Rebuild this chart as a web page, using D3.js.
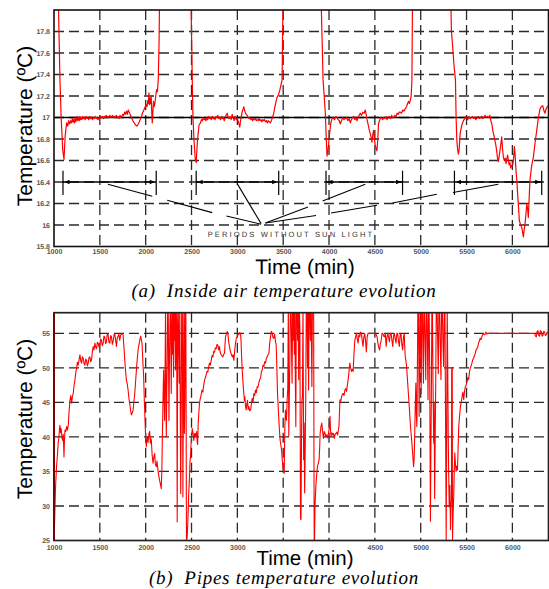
<!DOCTYPE html>
<html><head><meta charset="utf-8">
<script src="https://cdn.jsdelivr.net/npm/d3@7"></script>
<style>html,body{margin:0;padding:0;background:#fff;}svg{display:block;}text{text-rendering:geometricPrecision;}</style>
</head><body>
<svg id="c" width="549" height="589"></svg>
<script>
// ---------- DATA ----------
const timeTicks = [1000,1500,2000,2500,3000,3500,4000,4500,5000,5500,6000];
const airTimeLabels = ["1000","1500","2000","2500","3000","3500","4000","4500","5000","5500","6000"];
// in the lower panel the 3500 and 4000 labels are hidden under the axis title
const pipeTimeLabels = ["1000","1500","2000","2500","3000","","","4500","5000","5500","6000"];
const airTicks = [15.8,16,16.2,16.4,16.6,16.8,17,17.2,17.4,17.6,17.8];
const airTickLabels = ["15.8","16","16.2","16.4","16.6","16.8","17","17.2","17.4","17.6","17.8"];
const pipeTicks = [25,30,35,40,45,50,55];
const setPoint = 17;
const periodStart = [1098,2551,3967,5368];
const periodEnd = [2115,3451,4802,6320];
const periodLevel = 16.4;
const periodLabel = "PERIODS WITHOUT SUN LIGHT";
// pointer segments [t1,v1,t2,v2]
const pointerSegs = [
 [1588,16.379,2072,16.267],[2235,16.23,2725,16.115],[2881,16.084,3259,16.007],
 [2998,16.385,3259,16.013],
 [3306,16.019,3771,16.168],[3930,16.224,4395,16.379],
 [3306,16.019,3858,16.088],[4022,16.112,4523,16.183],[4693,16.205,5176,16.286],[5351,16.302,5847,16.379]
];

const airSeries = [[1040,18.4],[1065,17.35],[1078,17.0],[1095,16.7],[1109,16.61],[1122,16.83],[1138,16.95],[1150,16.92],[1160,16.97],[1172,16.94],[1182,16.97],[1192,16.95],[1200,16.99],[1208,16.96],[1215,16.98],[1222,16.95],[1230,17.0],[1238,16.96],[1245,16.98],[1252,17.01],[1260,16.97],[1268,17.0],[1275,16.97],[1283,17.01],[1290,16.98],[1298,17.0],[1305,16.98],[1313,17.01],[1320,16.99],[1330,17.0],[1340,16.98],[1350,17.01],[1360,16.99],[1370,17.0],[1380,16.98],[1390,17.01],[1400,16.99],[1410,17.0],[1420,16.98],[1430,17.0],[1440,16.99],[1450,17.01],[1460,16.99],[1470,17.0],[1480,16.98],[1490,17.0],[1500,16.99],[1510,17.01],[1520,17.0],[1530,17.01],[1540,16.99],[1550,17.01],[1560,17.0],[1570,17.02],[1580,17.0],[1590,17.01],[1600,17.0],[1610,17.02],[1620,17.0],[1630,17.01],[1640,17.02],[1650,17.0],[1660,17.01],[1670,17.0],[1680,17.02],[1690,17.0],[1700,17.01],[1710,16.99],[1720,17.02],[1730,17.0],[1740,17.01],[1750,17.03],[1760,17.02],[1770,17.05],[1780,17.03],[1790,17.06],[1800,17.03],[1810,17.07],[1820,17.05],[1830,17.03],[1845,17.0],[1860,16.97],[1875,16.95],[1890,16.93],[1905,16.92],[1920,16.94],[1935,16.97],[1950,17.0],[1965,17.04],[1980,17.07],[1995,17.1],[2005,17.12],[2015,17.1],[2024,17.16],[2030,17.13],[2036,17.23],[2042,17.12],[2048,17.18],[2054,17.13],[2060,17.2],[2066,17.05],[2072,16.95],[2078,17.05],[2085,17.15],[2092,17.1],[2100,17.13],[2110,17.2],[2120,17.26],[2128,17.24],[2137,17.35],[2146,17.7],[2155,18.4],
[2489,18.4],[2508,17.35],[2516,17.0],[2527,16.79],[2540,16.62],[2551,16.58],[2565,16.79],[2582,16.93],[2598,16.95],[2608,16.98],[2617,16.97],[2627,17.0],[2637,16.98],[2647,16.99],[2657,16.97],[2667,17.0],[2677,16.98],[2687,17.01],[2697,16.99],[2707,17.0],[2717,16.98],[2727,17.01],[2737,16.99],[2747,17.0],[2757,16.98],[2767,17.01],[2777,17.0],[2787,17.02],[2797,16.99],[2807,17.0],[2817,16.98],[2827,17.01],[2837,16.99],[2847,17.0],[2857,16.97],[2867,17.0],[2877,17.02],[2889,17.04],[2900,17.0],[2910,16.99],[2920,17.01],[2932,16.98],[2943,17.03],[2955,17.0],[2965,16.97],[2975,17.01],[2988,16.98],[2998,17.0],[3010,16.96],[3018,16.94],[3026,16.91],[3035,16.97],[3045,17.02],[3055,17.06],[3063,17.08],[3070,17.1],[3078,17.07],[3088,17.04],[3097,17.03],[3107,17.02],[3117,17.0],[3127,16.99],[3137,17.0],[3147,16.98],[3157,16.99],[3167,16.97],[3177,16.99],[3187,16.98],[3197,16.99],[3207,16.97],[3217,16.98],[3227,16.97],[3237,16.99],[3247,16.97],[3257,16.98],[3267,16.96],[3277,16.98],[3287,16.97],[3297,16.98],[3307,16.96],[3317,16.97],[3327,16.95],[3337,16.97],[3347,16.96],[3361,16.95],[3375,16.98],[3390,17.02],[3397,17.04],[3410,17.1],[3420,17.14],[3434,17.19],[3448,17.21],[3462,17.25],[3475,17.3],[3488,17.35],[3502,18.4],
[3905,18.4],[3935,17.35],[3960,17.04],[3970,16.8],[3978,16.64],[3992,16.72],[4006,16.85],[4020,16.95],[4033,16.99],[4045,17.0],[4060,16.98],[4075,17.01],[4087,17.0],[4100,16.98],[4112,16.97],[4123,16.94],[4135,16.97],[4150,17.0],[4163,16.98],[4177,16.99],[4190,17.0],[4205,16.97],[4220,16.99],[4232,16.95],[4245,16.98],[4257,17.0],[4268,17.01],[4280,16.98],[4293,17.0],[4305,16.97],[4318,17.01],[4330,17.02],[4341,17.04],[4355,17.02],[4368,17.05],[4383,17.04],[4395,17.07],[4405,17.03],[4415,16.98],[4425,16.94],[4440,16.88],[4450,16.85],[4458,16.82],[4468,16.77],[4477,16.84],[4486,16.88],[4495,16.8],[4504,16.74],[4514,16.71],[4523,16.69],[4532,16.8],[4540,16.94],[4550,16.97],[4559,16.99],[4570,17.0],[4585,16.98],[4598,17.0],[4610,16.99],[4622,17.01],[4632,16.98],[4645,17.0],[4658,17.01],[4670,16.99],[4683,17.02],[4693,17.0],[4704,17.0],[4718,17.02],[4730,17.01],[4743,17.04],[4755,17.03],[4767,17.05],[4777,17.05],[4790,17.04],[4805,17.07],[4818,17.06],[4831,17.08],[4845,17.1],[4857,17.13],[4867,17.15],[4876,17.13],[4886,17.16],[4896,17.2],[4904,17.35],[4913,18.4],
[5321,18.4],[5335,17.8],[5343,17.72],[5352,17.62],[5362,17.5],[5379,17.35],[5386,17.0],[5394,16.79],[5403,16.7],[5412,16.66],[5421,16.72],[5430,16.85],[5448,16.93],[5466,16.97],[5480,16.99],[5492,17.01],[5503,17.0],[5515,16.98],[5527,17.01],[5540,16.99],[5552,17.0],[5565,17.01],[5578,16.99],[5590,17.0],[5602,16.98],[5615,17.0],[5628,17.01],[5640,16.99],[5652,17.0],[5665,17.01],[5678,16.99],[5690,17.0],[5703,17.02],[5715,17.0],[5728,17.01],[5740,17.0],[5754,17.02],[5765,16.97],[5776,16.94],[5790,16.86],[5800,16.83],[5809,16.79],[5820,16.74],[5830,16.68],[5838,16.62],[5847,16.59],[5856,16.64],[5866,16.7],[5875,16.76],[5884,16.82],[5893,16.7],[5902,16.63],[5912,16.6],[5922,16.62],[5931,16.57],[5940,16.62],[5948,16.65],[5956,16.6],[5965,16.56],[5973,16.58],[5982,16.53],[5992,16.55],[6004,16.56],[6013,16.62],[6022,16.73],[6030,16.65],[6040,16.5],[6048,16.42],[6058,16.28],[6066,16.18],[6076,16.04],[6090,16.0],[6102,15.98],[6112,15.93],[6120,15.89],[6128,15.95],[6138,16.01],[6148,16.1],[6157,16.2],[6166,16.15],[6174,16.07],[6183,16.25],[6192,16.42],[6210,16.55],[6229,16.63],[6248,16.77],[6266,16.88],[6284,17.0],[6302,17.08],[6315,17.1],[6331,17.11],[6345,17.06],[6356,17.04],[6368,17.08],[6381,17.1],[6394,17.11]];

const pipeSeries = [[1000,25.05],[1006,27.5],[1011,29.9],[1016,32.5],[1022,34.2],[1028,35.8],[1036,37.1],[1045,39.0],[1054,40.0],[1060,41.2],[1065,41.7],[1072,40.6],[1078,41.2],[1083,40.5],[1088,39.8],[1094,39.5],[1100,40.4],[1105,38.8],[1109,37.1],[1114,39.5],[1120,41.0],[1128,40.8],[1138,41.5],[1146,41.0],[1156,41.7],[1165,43.8],[1174,45.3],[1183,46.0],[1192,44.9],[1200,45.8],[1210,46.3],[1219,47.5],[1228,48.2],[1237,49.3],[1246,49.9],[1255,50.8],[1264,50.4],[1274,51.2],[1283,51.9],[1292,51.0],[1301,50.7],[1310,51.6],[1319,51.4],[1328,50.6],[1337,50.4],[1346,51.3],[1355,51.1],[1364,50.3],[1373,50.7],[1382,51.5],[1391,51.6],[1400,50.9],[1409,51.1],[1418,52.3],[1427,53.1],[1436,52.6],[1446,53.6],[1455,53.0],[1464,52.8],[1473,53.7],[1482,53.6],[1491,53.0],[1500,53.3],[1509,54.2],[1518,54.0],[1527,53.2],[1536,53.6],[1545,54.6],[1554,54.5],[1563,53.5],[1572,53.8],[1581,54.9],[1590,54.8],[1600,53.7],[1609,53.6],[1618,54.7],[1627,54.5],[1636,53.4],[1645,53.8],[1654,54.8],[1663,54.9],[1672,54.1],[1681,53.1],[1690,54.3],[1699,54.6],[1708,54.9],[1717,54.0],[1726,54.7],[1735,54.9],[1744,55.0],[1753,54.8],[1762,53.2],[1772,51.1],[1781,49.5],[1790,48.2],[1799,47.7],[1808,46.8],[1817,45.6],[1826,44.9],[1835,43.9],[1844,43.2],[1853,43.5],[1862,43.8],[1871,45.0],[1881,46.3],[1890,48.0],[1899,49.7],[1908,51.3],[1917,52.6],[1926,53.3],[1935,54.0],[1946,54.6],[1953,54.0],[1960,53.6],[1969,51.0],[1978,48.7],[1986,45.0],[1993,42.4],[2000,39.8],[2007,38.6],[2012,39.4],[2018,40.0],[2026,39.2],[2036,40.5],[2044,40.8],[2051,39.1],[2056,39.8],[2062,39.5],[2070,37.5],[2080,36.2],[2088,37.0],[2098,37.6],[2106,36.0],[2116,35.7],[2124,36.5],[2134,35.2],[2143,34.4],[2152,33.7],[2160,33.2],[2170,32.5],[2176,35.0],[2181,39.1],[2190,46.0],[2196,49.7],[2202,45.0],[2207,42.4],[2212,50.0],[2217,59],[2221,48.0],[2225,40.0],[2230,46.0],[2235,51.1],[2240,59],[2246,59],[2250,50.0],[2254,42.4],[2260,52.0],[2268,59],[2274,55.0],[2279,46.3],[2285,59],[2292,52.0],[2298,59],[2304,48.7],[2310,59],[2316,54.0],[2320,59],[2326,49.7],[2332,59],[2338,56.0],[2344,27.7],[2350,59],[2355,59],[2361,52.0],[2366,47.8],[2372,59],[2377,45.0],[2382,31.8],[2388,44.9],[2393,59],[2400,59],[2406,31.3],[2412,50.0],[2418,59],[2422,40.5],[2427,44.9],[2432,59],[2438,59],[2445,25.0],[2453,25.5],[2458,27.0],[2464,29.4],[2470,32.0],[2478,34.2],[2484,36.5],[2489,37.1],[2495,39.0],[2500,40.0],[2508,41.2],[2515,40.7],[2520,40.1],[2525,39.5],[2532,40.5],[2538,40.0],[2544,40.5],[2550,40.1],[2556,40.8],[2562,39.3],[2567,38.9],[2573,42.0],[2580,43.5],[2587,44.9],[2596,45.6],[2605,46.1],[2614,46.8],[2624,46.5],[2633,47.5],[2642,48.2],[2651,48.6],[2660,49.0],[2669,49.5],[2678,49.4],[2687,50.2],[2696,50.7],[2705,50.4],[2715,51.1],[2724,51.8],[2733,51.6],[2742,52.4],[2751,52.3],[2760,52.9],[2769,52.8],[2778,53.4],[2787,53.3],[2796,52.6],[2805,53.1],[2814,52.2],[2824,51.9],[2833,51.7],[2842,51.6],[2851,52.0],[2860,52.1],[2866,53.5],[2871,54.5],[2880,54.9],[2889,55.3],[2898,54.8],[2907,53.6],[2916,53.0],[2925,52.3],[2934,52.0],[2944,51.6],[2953,51.9],[2962,51.1],[2971,52.5],[2980,53.6],[2989,54.3],[2998,54.5],[3007,55.0],[3016,54.8],[3025,55.1],[3034,55.0],[3040,54.0],[3045,52.1],[3052,50.0],[3060,48.2],[3066,47.0],[3071,46.3],[3077,45.2],[3082,45.8],[3089,44.5],[3096,43.9],[3103,44.8],[3111,45.3],[3118,44.0],[3125,44.4],[3134,43.8],[3144,43.9],[3153,44.8],[3162,45.6],[3171,45.0],[3180,46.3],[3189,46.0],[3198,46.8],[3207,46.4],[3216,47.3],[3225,47.2],[3234,47.8],[3243,48.3],[3253,48.5],[3262,49.4],[3271,49.7],[3280,50.4],[3289,50.2],[3298,50.9],[3307,50.7],[3316,51.4],[3325,51.6],[3334,51.9],[3344,52.1],[3352,53.5],[3362,54.5],[3371,55.3],[3380,55.0],[3389,54.4],[3398,54.3],[3407,54.9],[3416,53.8],[3422,53.5],[3427,52.1],[3432,49.5],[3438,46.3],[3445,44.5],[3453,42.4],[3460,40.8],[3467,39.5],[3475,38.8],[3482,38.1],[3489,36.8],[3496,35.7],[3504,35.2],[3511,34.7],[3518,41.5],[3525,43.9],[3531,42.8],[3536,42.4],[3543,45.4],[3550,47.0],[3556,59],[3561,40.1],[3567,46.0],[3572,50.2],[3578,59],[3586,59],[3592,52.0],[3597,47.8],[3603,59],[3610,54.0],[3615,59],[3622,52.0],[3628,59],[3633,47.3],[3638,41.5],[3643,59],[3651,59],[3657,54.0],[3663,59],[3669,48.3],[3675,59],[3682,56.0],[3689,28.2],[3694,28.0],[3700,40.0],[3705,45.4],[3710,45.8],[3716,59],[3723,36.7],[3728,42.0],[3734,31.9],[3740,38.0],[3746,45.4],[3752,59],[3760,59],[3766,50.0],[3772,59],[3777,46.8],[3783,59],[3790,59],[3797,54.0],[3804,59],[3813,47.3],[3819,59],[3826,59],[3832,59],[3838,25.0],[3842,25.1],[3847,30.0],[3856,32.8],[3865,34.5],[3874,35.7],[3883,36.2],[3892,36.7],[3898,38.5],[3903,40.5],[3912,41.5],[3921,42.0],[3930,40.8],[3939,39.8],[3948,40.8],[3957,40.5],[3966,40.0],[3975,40.3],[3984,39.9],[3993,40.5],[4002,41.2],[4011,43.0],[4016,41.0],[4022,40.1],[4031,40.6],[4040,40.3],[4049,40.5],[4058,39.8],[4067,40.4],[4076,40.5],[4085,40.7],[4094,40.3],[4101,40.9],[4108,41.5],[4114,43.5],[4119,45.4],[4128,45.2],[4137,45.8],[4146,46.2],[4155,46.3],[4164,46.0],[4173,46.8],[4182,47.0],[4191,46.6],[4200,47.5],[4209,48.3],[4218,49.5],[4227,50.7],[4236,50.0],[4245,49.5],[4254,49.8],[4263,49.5],[4272,52.0],[4281,54.0],[4290,54.5],[4299,55.0],[4308,54.2],[4317,53.6],[4326,54.8],[4335,54.5],[4344,55.2],[4353,55.0],[4362,54.0],[4371,53.1],[4380,54.5],[4389,55.0],[4398,54.0],[4407,52.3],[4416,54.5],[4425,55.0],[4434,55.0],[4443,55.0],[4461,55.0],[4479,55.0],[4497,55.0],[4515,54.8],[4524,54.5],[4533,53.6],[4542,53.0],[4551,52.6],[4560,53.5],[4569,54.0],[4578,55.0],[4587,55.0],[4596,54.6],[4605,54.5],[4614,55.0],[4623,53.1],[4632,54.5],[4641,55.0],[4650,54.4],[4659,53.8],[4668,55.0],[4677,55.0],[4686,54.0],[4695,53.1],[4704,54.7],[4713,55.0],[4722,54.2],[4731,53.6],[4740,55.0],[4749,55.0],[4758,53.8],[4767,53.1],[4776,54.8],[4785,55.0],[4794,53.4],[4803,52.6],[4812,54.5],[4821,55.0],[4826,53.0],[4832,51.6],[4839,51.0],[4846,50.2],[4857,48.0],[4868,45.8],[4877,44.0],[4886,42.0],[4895,40.5],[4904,39.1],[4913,37.5],[4922,35.7],[4927,36.5],[4932,38.6],[4940,44.0],[4947,47.8],[4953,43.0],[4958,41.5],[4964,50.0],[4969,59],[4976,59],[4983,43.0],[4988,52.0],[4994,59],[5000,53.0],[5005,46.3],[5012,59],[5019,59],[5025,52.0],[5030,47.8],[5036,59],[5041,59],[5048,54.0],[5055,48.3],[5062,59],[5069,59],[5075,51.0],[5080,45.4],[5086,59],[5091,59],[5098,50.0],[5106,27.8],[5111,38.0],[5116,45.4],[5122,59],[5127,59],[5134,48.0],[5142,39.1],[5147,45.0],[5152,31.1],[5158,40.0],[5163,46.3],[5170,59],[5178,59],[5185,54.0],[5192,49.2],[5199,59],[5206,59],[5214,53.0],[5221,48.3],[5228,59],[5235,59],[5242,54.0],[5250,50.2],[5257,59],[5264,59],[5270,45.0],[5278,25.1],[5283,40.0],[5289,59],[5295,50.0],[5300,40.5],[5305,35.0],[5311,29.9],[5318,33.0],[5325,26.6],[5330,30.0],[5336,30.9],[5338,50.0],[5344,50.0],[5347,25.1],[5354,29.0],[5361,31.9],[5366,35.0],[5372,37.7],[5379,36.0],[5386,35.0],[5393,35.8],[5401,35.2],[5408,38.5],[5415,41.5],[5424,43.0],[5433,44.4],[5442,45.0],[5451,45.8],[5460,46.5],[5469,45.4],[5478,46.6],[5487,47.3],[5496,47.5],[5505,48.0],[5514,48.6],[5523,48.3],[5532,49.4],[5541,50.0],[5550,50.3],[5559,50.7],[5568,51.2],[5577,51.4],[5586,51.8],[5595,52.1],[5604,52.6],[5613,52.8],[5622,53.0],[5631,53.6],[5640,53.9],[5649,54.3],[5658,54.1],[5667,54.5],[5676,54.8],[5685,55.0],[5694,54.8],[5703,54.9],[5712,55.2],[5721,54.9],[5730,55.0],[5739,55.0],[6243,55.0],[6252,54.6],[6261,54.5],[6270,55.3],[6279,55.4],[6288,54.7],[6297,54.6],[6306,55.4],[6315,55.3],[6324,54.6],[6333,54.7],[6342,55.3],[6351,55.2],[6360,54.7],[6369,54.8],[6380,55.2],[6394,55.0]];

// ---------- DRAW ----------
const svg = d3.select("#c");
const X0 = 54, X1 = 548.5;
const x = d3.scaleLinear().domain([1000, 6394]).range([X0, X1]);
const yA = d3.scaleLinear().domain([15.8, 18]).range([246.5, 10]);
const yB = d3.scaleLinear().domain([25, 58]).range([540.5, 312.7]);

const tickFont = "'Liberation Sans', Arial, sans-serif";

function panel(id, y, yTicks, yLabels, xLabels, xPad) {
  const g = svg.append("g");
  const [yb, yt] = y.range();
  svg.append("clipPath").attr("id", id).append("rect")
    .attr("x", X0).attr("y", yt).attr("width", X1 - X0).attr("height", yb - yt);
  const grid = g.append("g").attr("stroke", "#2a2a2a").attr("stroke-width", 1.3)
    .attr("stroke-dasharray", "10,5").attr("fill", "none");
  grid.selectAll("line.v").data(timeTicks.slice(1)).join("line")
    .attr("x1", d => x(d)).attr("x2", d => x(d)).attr("y1", yt).attr("y2", yb);
  grid.selectAll("line.h").data(yTicks.slice(1)).join("line")
    .attr("x1", X0).attr("x2", X1).attr("y1", d => y(d)).attr("y2", d => y(d));
  const ax = g.append("g").attr("transform", `translate(0,${yb})`)
    .call(d3.axisBottom(x).tickValues(timeTicks).tickSize(0).tickPadding(xPad).tickFormat((d, i) => xLabels[i]));
  ax.select(".domain").remove();
  ax.selectAll("text").attr("font-family", tickFont).attr("font-size", 7).attr("font-weight", "bold")
    .attr("fill", "#555");
  ax.selectAll(".tick").filter((d, i) => xLabels[i] === "").remove();
  const ay = g.append("g").attr("transform", `translate(${X0},0)`)
    .call(d3.axisLeft(y).tickValues(yTicks).tickSize(0).tickPadding(4).tickFormat((d, i) => yLabels[i]));
  ay.select(".domain").remove();
  ay.selectAll("text").attr("font-family", tickFont).attr("font-size", 7).attr("font-weight", "bold")
    .attr("fill", "#555");
  return g;
}

// ---- Panel A ----
const gA = panel("clipA", yA, airTicks, airTickLabels, airTimeLabels, 2.5);
gA.append("line").attr("x1", X0).attr("x2", X1).attr("y1", yA(setPoint)).attr("y2", yA(setPoint))
  .attr("stroke", "#000").attr("stroke-width", 1.4);

const ann = gA.append("g").attr("stroke", "#000").attr("fill", "#000");
periodStart.forEach((s, i) => {
  const e = periodEnd[i], yy = yA(periodLevel);
  const xs = x(s), xe = x(e);
  ann.append("line").attr("x1", xs).attr("x2", xe).attr("y1", yy).attr("y2", yy).attr("stroke-width", 1.4);
  ann.append("line").attr("x1", xs).attr("x2", xs).attr("y1", yA(16.505)).attr("y2", yA(16.28)).attr("stroke-width", 1.2);
  ann.append("line").attr("x1", xe).attr("x2", xe).attr("y1", yA(16.505)).attr("y2", yA(16.28)).attr("stroke-width", 1.2);
  ann.append("path").attr("stroke", "none")
    .attr("d", `M${xs + 1.5},${yy} L${xs + 6.5},${yy - 2.2} L${xs + 6.5},${yy + 2.2} Z`);
  ann.append("path").attr("stroke", "none")
    .attr("d", `M${xe - 1.5},${yy} L${xe - 6.5},${yy - 2.2} L${xe - 6.5},${yy + 2.2} Z`);
});
gA.append("g").attr("stroke", "#000").attr("stroke-width", 1.1)
  .selectAll("line").data(pointerSegs).join("line")
  .attr("x1", d => x(d[0])).attr("y1", d => yA(d[1]))
  .attr("x2", d => x(d[2])).attr("y2", d => yA(d[3]));
gA.append("text").attr("x", 291).attr("y", 236.5).attr("text-anchor", "middle")
  .attr("font-family", tickFont).attr("font-size", 7.6).attr("letter-spacing", "2.1px")
  .attr("fill", "#333").text(periodLabel);

const line = (yy) => d3.line().x(d => x(d[0])).y(d => yy(d[1]));
gA.append("path").datum(airSeries).attr("clip-path", "url(#clipA)")
  .attr("d", line(yA)).attr("fill", "none").attr("stroke", "#ff0000").attr("stroke-width", 1.2)
  .attr("stroke-linejoin", "round");
gA.append("rect").attr("x", X0).attr("y", 10).attr("width", X1 - X0).attr("height", 236.5)
  .attr("fill", "none").attr("stroke", "#111").attr("stroke-width", 1.6);

// ---- Panel B ----
const gB = panel("clipB", yB, pipeTicks, pipeTicks.map(String), pipeTimeLabels, 4.5);
gB.append("path").datum(pipeSeries).attr("clip-path", "url(#clipB)")
  .attr("d", line(yB)).attr("fill", "none").attr("stroke", "#ff0000").attr("stroke-width", 1.1)
  .attr("stroke-linejoin", "round");
gB.append("rect").attr("x", X0).attr("y", 312.7).attr("width", X1 - X0).attr("height", 540.5 - 312.7)
  .attr("fill", "none").attr("stroke", "#222").attr("stroke-width", 1.7);
gB.append("line").attr("x1", X0).attr("x2", X0).attr("y1", 312.7).attr("y2", 540.5)
  .attr("stroke", "#7a0000").attr("stroke-width", 2);

// ---- Titles ----
const titleFont = "'Liberation Sans', Arial, sans-serif";
function yTitle(cy) {
  svg.append("text").attr("transform", `translate(32,${cy}) rotate(-90)`)
    .attr("text-anchor", "middle").attr("font-family", titleFont).attr("font-size", 21)
    .attr("fill", "#000").text("Temperature (ºC)");
}
yTitle(126); yTitle(419);
svg.append("text").attr("x", 305).attr("y", 274).attr("text-anchor", "middle")
  .attr("font-family", titleFont).attr("font-size", 21).text("Time (min)");
svg.append("text").attr("x", 305).attr("y", 565).attr("text-anchor", "middle")
  .attr("font-family", titleFont).attr("font-size", 20.5).text("Time (min)");
const capFont = "'Liberation Serif', 'Times New Roman', serif";
svg.append("text").attr("x", 284).attr("y", 297).attr("text-anchor", "middle")
  .attr("font-family", capFont).attr("font-style", "italic").attr("font-size", 19)
  .attr("letter-spacing", "0.75px")
  .attr("xml:space", "preserve").text("(a)  Inside air temperature evolution");
svg.append("text").attr("x", 284).attr("y", 584).attr("text-anchor", "middle")
  .attr("font-family", capFont).attr("font-style", "italic").attr("font-size", 19)
  .attr("letter-spacing", "0.75px")
  .attr("xml:space", "preserve").text("(b)  Pipes temperature evolution");
</script>
</body></html>
